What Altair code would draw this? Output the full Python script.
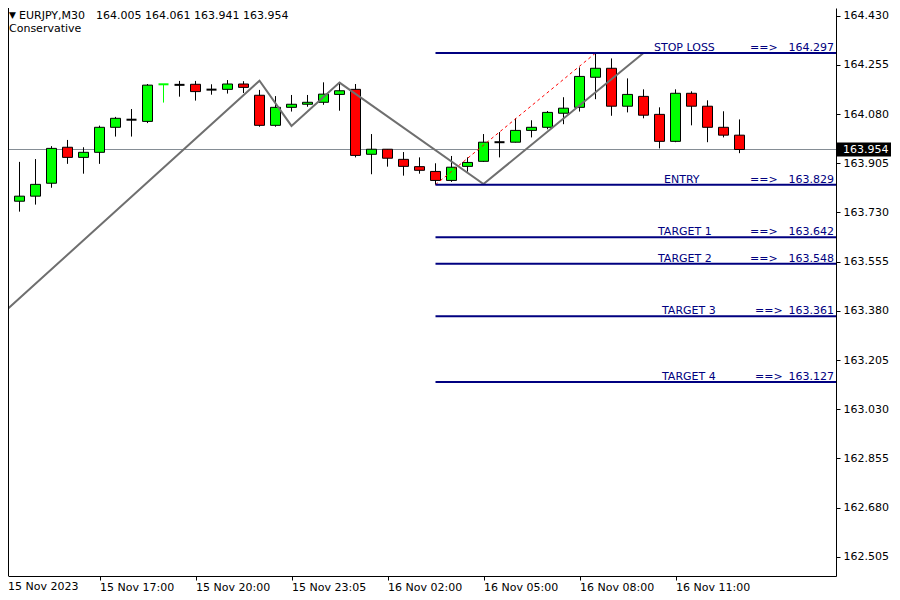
import json
import numpy as np
import pandas as pd
import altair as alt

# ---------------- data ----------------
TIME_LABELS = ["15 Nov 2023", "15 Nov 17:00", "15 Nov 20:00", "15 Nov 23:05",
               "16 Nov 02:00", "16 Nov 05:00", "16 Nov 08:00", "16 Nov 11:00"]
BARS_PER_LABEL = 6

OPEN = [163.727, 163.770, 163.788, 163.834, 163.962, 163.926, 163.944, 164.033,
        164.060, 164.054, 164.186, 164.184, 164.186, 164.167, 164.168, 164.187,
        164.147, 164.040, 164.104, 164.115, 164.122, 164.150, 164.168, 163.937,
        163.955, 163.919, 163.893, 163.876, 163.844, 163.894, 163.912, 163.980,
        163.980, 164.022, 164.033, 164.083, 164.104, 164.211, 164.243, 164.108,
        164.143, 164.079, 163.983, 164.154, 164.108, 164.033, 164.005]
HIGH = [163.802, 163.910, 163.920, 163.966, 163.988, 163.962, 164.039, 164.070,
        164.098, 164.187, 164.187, 164.198, 164.198, 164.186, 164.201, 164.197,
        164.166, 164.144, 164.148, 164.148, 164.193, 164.190, 164.187, 164.009,
        163.955, 163.945, 163.926, 163.905, 163.931, 163.926, 164.009, 164.016,
        164.065, 164.058, 164.091, 164.140, 164.246, 164.297, 164.278, 164.207,
        164.168, 164.104, 164.168, 164.161, 164.129, 164.090, 164.061]
LOW = [163.674, 163.733, 163.758, 163.818, 163.903, 163.868, 163.903, 164.000,
       164.000, 164.048, 164.121, 164.142, 164.128, 164.149, 164.153, 164.155,
       164.035, 164.035, 164.089, 164.106, 164.113, 164.092, 163.926, 163.866,
       163.893, 163.861, 163.868, 163.829, 163.839, 163.875, 163.910, 163.926,
       163.979, 163.997, 164.026, 164.044, 164.089, 164.133, 164.074, 164.086,
       164.065, 163.958, 163.980, 164.040, 163.980, 163.997, 163.941]
CLOSE = [163.768, 163.788, 163.830, 163.958, 163.926, 163.944, 164.033, 164.065,
         164.060, 164.183, 164.187, 164.184, 164.160, 164.167, 164.187, 164.175,
         164.040, 164.104, 164.115, 164.122, 164.151, 164.163, 163.933, 163.955,
         163.923, 163.894, 163.880, 163.844, 163.891, 163.908, 163.980, 163.980,
         164.022, 164.033, 164.086, 164.101, 164.214, 164.243, 164.108, 164.150,
         164.076, 163.983, 164.154, 164.108, 164.033, 164.005, 163.954]

LEVEL_NAMES = ["STOP LOSS", "ENTRY", "TARGET 1", "TARGET 2", "TARGET 3", "TARGET 4"]
LEVEL_PRICES = [164.297, 163.829, 163.642, 163.548, 163.361, 163.127]
LEVEL_START_BAR = 27

ZIGZAG_BAR = [-0.08, 16, 18, 21, 30, 40]
ZIGZAG_PRICE = [163.369, 164.199, 164.038, 164.192, 163.831, 164.297]

PROJ_BAR = [27, 37]
PROJ_PRICE = [163.829, 164.297]

CURRENT_PRICE = 163.954
Y_TICKS = [164.430, 164.255, 164.080, 163.905, 163.730, 163.555,
           163.380, 163.205, 163.030, 162.855, 162.680, 162.505]

HEADER_SYMBOL = "EURJPY,M30"
HEADER_OHLC = "164.005 164.061 163.941 163.954"
HEADER_NAME = "Conservative"

# ---------------- layout / style ----------------
W, H = 828, 568
BAR_PX = 16
X_MIN = 4.5 / BAR_PX
X_MAX = X_MIN + W / BAR_PX
Y_MIN, Y_MAX = 162.4368, 164.4574
HALF = 0.3125
FONT = "DejaVu Sans"
NAVY = "#000080"
UP = "#00ff00"
DOWN = "#ff0000"

NAME_X = {"STOP LOSS": 646, "ENTRY": 656, "TARGET 1": 650,
          "TARGET 2": 650, "TARGET 3": 654, "TARGET 4": 654}
ARROW_X = {"STOP LOSS": 742, "ENTRY": 742, "TARGET 1": 742,
           "TARGET 2": 742, "TARGET 3": 747, "TARGET 4": 747}
VALUE_X = 826

xs = alt.Scale(domain=[X_MIN, X_MAX], nice=False, zero=False)
ys = alt.Scale(domain=[Y_MIN, Y_MAX], nice=False, zero=False)

tick_vals = [BARS_PER_LABEL * k for k in range(1, len(TIME_LABELS))]
label_expr = f"{json.dumps(TIME_LABELS)}[round(datum.value / {BARS_PER_LABEL})]"

x_axis = alt.Axis(values=tick_vals, labelExpr=label_expr, title=None, orient="bottom",
                  tickSize=4, labelAlign="left", labelBaseline="top", labelPadding=1,
                  grid=False, labelFlush=False, labelOverlap=False)
y_axis = alt.Axis(values=Y_TICKS, format=".3f", title=None, orient="right",
                  tickSize=4, labelPadding=3, grid=False, labelOverlap=False)


def X(f):
    return alt.X(f, type="quantitative", scale=xs, axis=x_axis)


def Y(f):
    return alt.Y(f, type="quantitative", scale=ys, axis=y_axis)


df = pd.DataFrame({"i": np.arange(len(OPEN)), "o": OPEN, "h": HIGH, "l": LOW, "c": CLOSE})
df["x1"] = df["i"] - HALF
df["x2"] = df["i"] + HALF
df["d"] = df["c"] - df["o"]
df["fill"] = np.where(df["d"] > 0, UP, DOWN)
df["wick"] = np.where((df["d"] > 0) & (df["d"] < 0.002), UP, "#000000")
bodies = df[df["d"].abs() >= 0.002]
dojis = df[df["d"].abs() < 0.002]

price_df = pd.DataFrame({"p": [CURRENT_PRICE]})
price_df["top"] = price_df["p"] + 0.025
price_df["bot"] = price_df["p"] - 0.025

price_line = alt.Chart(price_df).mark_rule(color="#858d95", strokeWidth=1).encode(
    x=alt.value(0), x2=alt.value(W), y=Y("p"))

wicks = alt.Chart(df).mark_rule(strokeWidth=1, clip=True).encode(
    x=X("i"), y=Y("l"), y2="h", color=alt.Color("wick:N", scale=None))

body = alt.Chart(bodies).mark_rect(stroke="black", strokeWidth=1, clip=True).encode(
    x=X("x1"), x2="x2", y=Y("o"), y2="c", fill=alt.Fill("fill:N", scale=None))

doji = alt.Chart(dojis).mark_rule(strokeWidth=2, clip=True).encode(
    x=X("x1"), x2="x2", y=Y("o"), color=alt.Color("wick:N", scale=None))

zz = alt.Chart(pd.DataFrame({"b": ZIGZAG_BAR, "p": ZIGZAG_PRICE, "k": range(len(ZIGZAG_BAR))})
               ).mark_line(color="#6f6f6f", strokeWidth=2, clip=True).encode(
    x=X("b"), y=Y("p"), order="k:Q")

proj = alt.Chart(pd.DataFrame({"b": PROJ_BAR, "p": PROJ_PRICE})).mark_line(
    color="#ff0000", strokeWidth=1, strokeDash=[3, 3], clip=True).encode(x=X("b"), y=Y("p"))

lev_df = pd.DataFrame({"name": LEVEL_NAMES, "p": LEVEL_PRICES})
lev_df["s"] = LEVEL_START_BAR
lev_df["e"] = X_MAX
levels = alt.Chart(lev_df).mark_rule(color=NAVY, strokeWidth=2, clip=True).encode(
    x=X("s"), x2="e", y=Y("p"))

layers = [price_line, wicks, body, doji, zz, proj, levels]

for name, p in zip(LEVEL_NAMES, LEVEL_PRICES):
    one = pd.DataFrame({"name": [name], "p": [p], "arrow": ["==>"]})
    base = alt.Chart(one)
    layers.append(base.mark_text(align="left", baseline="alphabetic", dy=-2, color=NAVY,
                                 font=FONT, fontSize=11).encode(
        x=alt.value(NAME_X[name]), y=Y("p"), text="name:N"))
    layers.append(base.mark_text(align="left", baseline="alphabetic", dy=-2, color=NAVY,
                                 font=FONT, fontSize=11).encode(
        x=alt.value(ARROW_X[name]), y=Y("p"), text="arrow:N"))
    layers.append(base.mark_text(align="right", baseline="alphabetic", dy=-2, color=NAVY,
                                 font=FONT, fontSize=11).encode(
        x=alt.value(VALUE_X), y=Y("p"), text=alt.Text("p:Q", format=".3f")))

# current price tag on the axis
layers.append(alt.Chart(price_df).mark_rect(color="black").encode(
    x=alt.value(828), x2=alt.value(883), y=Y("top"), y2="bot"))
layers.append(alt.Chart(price_df).mark_text(align="left", baseline="middle", color="white",
                                            font=FONT, fontSize=11).encode(
    x=alt.value(835), y=Y("p"), text=alt.Text("p:Q", format=".3f")))

# left border
layers.append(alt.Chart(price_df).mark_rule(color="black", strokeWidth=1).encode(
    x=alt.value(0.5), y=alt.value(0), y2=alt.value(H)))

# header texts
hdr = pd.DataFrame({"tri": ["\u25BC"], "sym": [HEADER_SYMBOL], "ohlc": [HEADER_OHLC],
                    "name": [HEADER_NAME], "first": [TIME_LABELS[0]]})
hb = alt.Chart(hdr)
layers.append(hb.mark_text(align="left", baseline="alphabetic", font=FONT, fontSize=9,
                           color="black").encode(x=alt.value(1), y=alt.value(10), text="tri:N"))
layers.append(hb.mark_text(align="left", baseline="alphabetic", font=FONT, fontSize=11,
                           color="black").encode(x=alt.value(11), y=alt.value(11), text="sym:N"))
layers.append(hb.mark_text(align="left", baseline="alphabetic", font=FONT, fontSize=11,
                           color="black").encode(x=alt.value(88), y=alt.value(11), text="ohlc:N"))
layers.append(hb.mark_text(align="left", baseline="alphabetic", font=FONT, fontSize=11,
                           color="black").encode(x=alt.value(1), y=alt.value(24), text="name:N"))
layers.append(hb.mark_text(align="left", baseline="top", font=FONT, fontSize=11,
                           color="black").encode(x=alt.value(0), y=alt.value(H + 5), text="first:N"))

chart = alt.layer(*layers).properties(
    width=W, height=H,
    autosize=alt.AutoSizeParams(type="none"),
    padding={"left": 0, "top": 0, "right": 56, "bottom": 20},
    background="white",
).configure_view(stroke=None).configure_axis(
    labelFont=FONT, labelFontSize=11, labelColor="black",
    domainColor="black", tickColor="black", domainWidth=1, tickWidth=1,
)

chart.save("out.html", embed_options={"renderer": "svg", "actions": False})
